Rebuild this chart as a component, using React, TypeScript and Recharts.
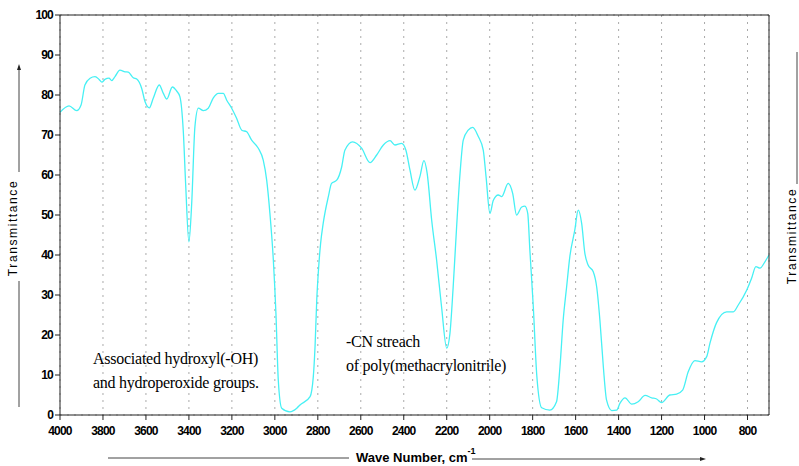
import {
  LineChart,
  Line,
  XAxis,
  YAxis,
  CartesianGrid,
  ReferenceLine,
} from "recharts";

// IR spectrum (wave number in cm-1, %T)
const waveNumbers = [
  4000, 3958, 3922, 3902, 3884, 3860, 3837, 3818, 3805, 3791, 3772, 3759, 3744,
  3721, 3697, 3682, 3659, 3643, 3620, 3604, 3584, 3566, 3538, 3519, 3503, 3477,
  3457, 3442, 3426, 3415, 3400, 3387, 3372, 3356, 3333, 3310, 3287, 3263, 3240,
  3224, 3201, 3178, 3154, 3131, 3108, 3077, 3054, 3038, 3023, 3007, 2995, 2984,
  2968, 2930, 2898, 2883, 2836, 2821, 2813, 2805, 2798, 2787, 2775, 2751, 2736,
  2712, 2689, 2674, 2638, 2596, 2557, 2526, 2495, 2464, 2441, 2410, 2390, 2371,
  2348, 2325, 2306, 2291, 2270, 2247, 2224, 2200, 2185, 2170, 2154, 2138, 2123,
  2100, 2079, 2053, 2030, 2017, 1999, 1983, 1960, 1944, 1914, 1893, 1875, 1851,
  1836, 1823, 1813, 1797, 1781, 1758, 1720, 1689, 1673, 1658, 1642, 1627, 1604,
  1588, 1572, 1557, 1542, 1518, 1502, 1487, 1471, 1456, 1432, 1409, 1394, 1370,
  1339, 1309, 1277, 1246, 1223, 1200, 1162, 1130, 1102, 1076, 1045, 1014, 990,
  975, 944, 897, 866, 843, 804, 781, 761, 742, 719, 700,
];

const transmittance = [
  75.7, 77.3, 76.1, 77.5, 82.5, 84.2, 84.6, 83.9, 83.2, 83.9, 84.2, 83.6, 84.6,
  86.2, 85.8, 85.7, 84.3, 84.0, 81.7, 78.3, 76.8, 79.2, 82.5, 80.4, 79.0, 82.0,
  81.0, 79.6, 70.8, 57.5, 43.3, 52.9, 72.1, 76.7, 76.1, 76.7, 79.2, 80.4, 80.4,
  78.7, 76.7, 74.2, 71.2, 70.8, 68.7, 66.7, 63.7, 58.7, 50.4, 38.7, 25.5, 8.7,
  1.7, 0.8, 1.7, 2.5, 4.6, 9.6, 17.0, 28.7, 35.4, 42.9, 47.9, 54.6, 57.9,
  58.7, 62.0, 66.2, 68.3, 66.7, 63.1, 65.0, 67.5, 68.6, 67.5, 67.9, 66.2, 61.2,
  56.2, 59.6, 63.6, 60.4, 48.7, 38.7, 27.0, 16.7, 20.4, 32.0, 47.0, 60.4, 68.7,
  71.2, 71.9, 69.6, 66.2, 59.6, 50.4, 53.7, 55.0, 54.6, 57.9, 55.4, 50.0, 52.0,
  52.2, 50.4, 41.2, 27.0, 10.0, 1.8, 1.2, 3.3, 12.0, 23.7, 32.0, 39.6, 46.2,
  51.2, 47.9, 40.4, 37.5, 35.8, 32.0, 23.7, 12.0, 3.7, 1.1, 1.2, 2.9, 4.3,
  2.7, 3.3, 4.9, 4.3, 4.0, 3.1, 5.0, 5.2, 6.2, 10.8, 13.6, 13.3, 14.6,
  17.9, 23.1, 25.8, 25.8, 27.5, 31.2, 34.2, 37.1, 36.7, 38.3, 40.0,
];

const xTicks = [4000, 3800, 3600, 3400, 3200, 3000, 2800, 2600, 2400, 2200, 2000, 1800, 1600, 1400, 1200, 1000, 800];
const yTicks = [0, 10, 20, 30, 40, 50, 60, 70, 80, 90, 100];

const ohNote = ["Associated hydroxyl(-OH)", "and hydroperoxide groups."];
const cnNote = ["-CN streach", "of poly(methacrylonitrile)"];

const data = waveNumbers.map((wn, i) => ({ wn, t: transmittance[i] }));

const tickFont = {
  fill: "#000",
  fontSize: 12,
  fontWeight: 700,
  fontFamily: "'Liberation Sans Narrow', 'Arial Narrow', Arial, sans-serif",
  letterSpacing: -0.8,
};

const SERIF = "'Times New Roman', 'Liberation Serif', 'DejaVu Serif', serif";

export default function App() {
  return (
    <div
      style={{
        position: "absolute",
        left: 0,
        top: 0,
        width: 799,
        height: 466,
        background: "#fff",
      }}
    >
      <LineChart
        width={799}
        height={466}
        data={data}
        margin={{ top: 15, right: 0, bottom: 0, left: 0 }}
      >
        <CartesianGrid stroke="#aaa" strokeDasharray="2 5" />
        <XAxis
          dataKey="wn"
          type="number"
          domain={[700, 4000]}
          reversed
          ticks={xTicks}
          interval={0}
          height={51}
          tickSize={5}
          tickMargin={6}
          tick={tickFont}
          axisLine={{ stroke: "#222" }}
          tickLine={{ stroke: "#222" }}
        />
        <YAxis
          yAxisId="left"
          domain={[0, 100]}
          ticks={yTicks}
          interval={0}
          width={60}
          tickSize={5}
          tickMargin={2}
          tick={tickFont}
          axisLine={{ stroke: "#222" }}
          tickLine={{ stroke: "#222" }}
        />
        <YAxis
          yAxisId="right"
          orientation="right"
          domain={[0, 100]}
          ticks={yTicks}
          interval={0}
          width={30}
          tickSize={5}
          tickMargin={3}
          tick={tickFont}
          axisLine={{ stroke: "#222" }}
          tickLine={{ stroke: "#222" }}
        />
        <ReferenceLine yAxisId="left" y={100} stroke="#222" />
        <Line
          yAxisId="left"
          type="monotone"
          dataKey="t"
          stroke="#46f0f4"
          strokeWidth={1.3}
          dot={false}
          isAnimationActive={false}
        />
      </LineChart>

      {/* axis titles and annotations */}
      <svg
        width={799}
        height={466}
        style={{ position: "absolute", left: 0, top: 0, pointerEvents: "none" }}
      >
        <g stroke="#444" strokeWidth={1}>
          <line x1={19} y1={68} x2={19} y2={172} />
          <line x1={19} y1={281} x2={19} y2={407} />
          <line x1={797} y1={52} x2={797} y2={184} />
          <line x1={108} y1={458} x2={349} y2={458} />
          <line x1={472} y1={459} x2={702} y2={459} />
        </g>
        <polygon points="19,64 17,70 21,70" fill="#222" />
        <polygon points="706,459 700,457 700,461" fill="#222" />
        <text
          transform="translate(17,228) rotate(-90)"
          textAnchor="middle"
          style={{ fontFamily: "'Liberation Sans', Arial, sans-serif", fontSize: 12, letterSpacing: 1.6, fill: "#000" }}
        >
          Transmittance
        </text>
        <text
          transform="translate(796,236) rotate(-90)"
          textAnchor="middle"
          style={{ fontFamily: "'Liberation Sans', Arial, sans-serif", fontSize: 12, letterSpacing: 1.6, fill: "#000" }}
        >
          Transmittance
        </text>
        <text
          x={356}
          y={462}
          style={{ fontFamily: "'Liberation Sans', Arial, sans-serif", fontSize: 13, fontWeight: 700, fill: "#000" }}
        >
          Wave Number, cm
          <tspan dy={-8} style={{ fontSize: 9 }}>
            -1
          </tspan>
        </text>
        <g style={{ fontFamily: SERIF, fontSize: 16, letterSpacing: -0.25, fill: "#000" }}>
          <text x={93} y={364}>{ohNote[0]}</text>
          <text x={93} y={388}>{ohNote[1]}</text>
          <text x={346} y={347}>{cnNote[0]}</text>
          <text x={346} y={371}>{cnNote[1]}</text>
        </g>
      </svg>
    </div>
  );
}
